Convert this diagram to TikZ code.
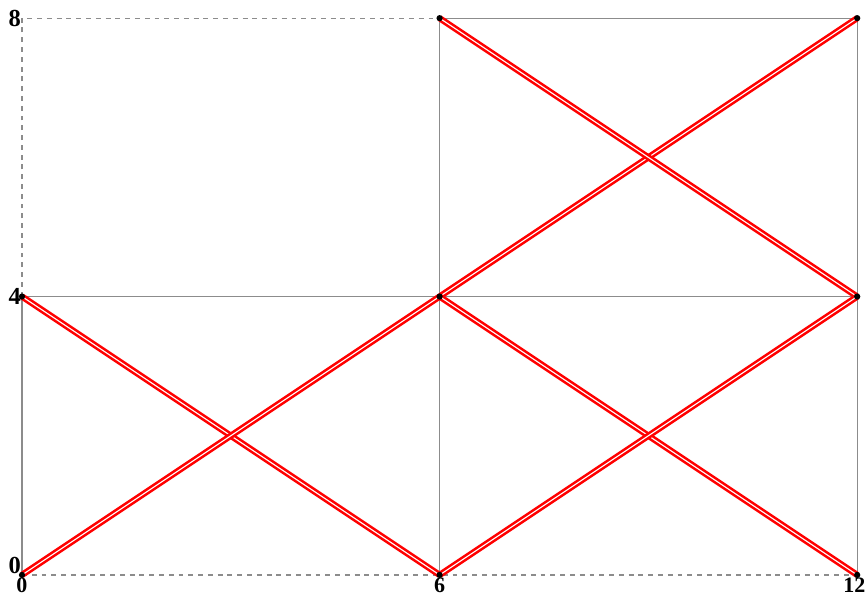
\documentclass[tikz,border=0pt]{standalone}
\usepackage{fontspec}
\setmainfont{Liberation Serif}
\usepackage{xcolor}
\usepackage{tikz}

\begin{document}
\begin{tikzpicture}[
    gridline/.style = {color = gray!90, line width = 0.45pt},
    axisline/.style = {color = gray!90, line width = 0.45pt, dash pattern = on 2pt off 2pt},
    beam/.style = {draw = red, double = white, line width = 1.05pt, double distance = 0.45pt},
    tick/.style = {font = \normalsize\bfseries, inner sep = 0.3pt},
    xtick/.style = {font = \small\bfseries, inner sep = 0pt, anchor = north}
  ]
    \useasboundingbox (-0.316, -0.302) rectangle (12.141, 8.261);

    % points
    \coordinate (pA) at (0, 0);
    \coordinate (pB) at (6, 0);
    \coordinate (pC) at (12, 0);
    \coordinate (pD) at (0, 4);
    \coordinate (pE) at (6, 4);
    \coordinate (pF) at (12, 4);
    \coordinate (pG) at (6, 8);
    \coordinate (pH) at (12, 8);
    \coordinate (pK) at (0, 8);

    \draw[axisline] (pA) -- (pC);
    \draw[axisline] (pD) -- (pK) -- (pG);
    \draw[gridline] (pA) -- (pD) -- (pF);
    \draw[gridline] (pB) -- (pG) -- (pH) -- (pC);

    \draw[beam] (pD) -- (pB);
    \draw[beam] (pA) -- (pE);
    \draw[beam] (pE) -- (pH);
    \draw[beam] (pG) -- (pF);
    \draw[beam] (pE) -- (pC);
    \draw[beam] (pB) -- (pF);

    \foreach \p in {pA, pB, pC, pD, pE, pF, pG, pH}
        \fill (\p) circle [radius = 0.045];

    \node[tick, anchor = east] (lK) at (pK) {8};
    \node[tick, anchor = east] (lD) at (pD) {4};
    \node[tick, anchor = east] (lA) at ([yshift=4pt]pA) {0};
    \node[xtick] (lA0) at ([yshift=-1pt]pA) {0};
    \node[xtick] (lB) at ([yshift=-1pt]pB) {6};
    \node[xtick, anchor = north east] (lC) at ([xshift=3.5pt, yshift=-1pt]pC) {12};
\end{tikzpicture}
\end{document}
